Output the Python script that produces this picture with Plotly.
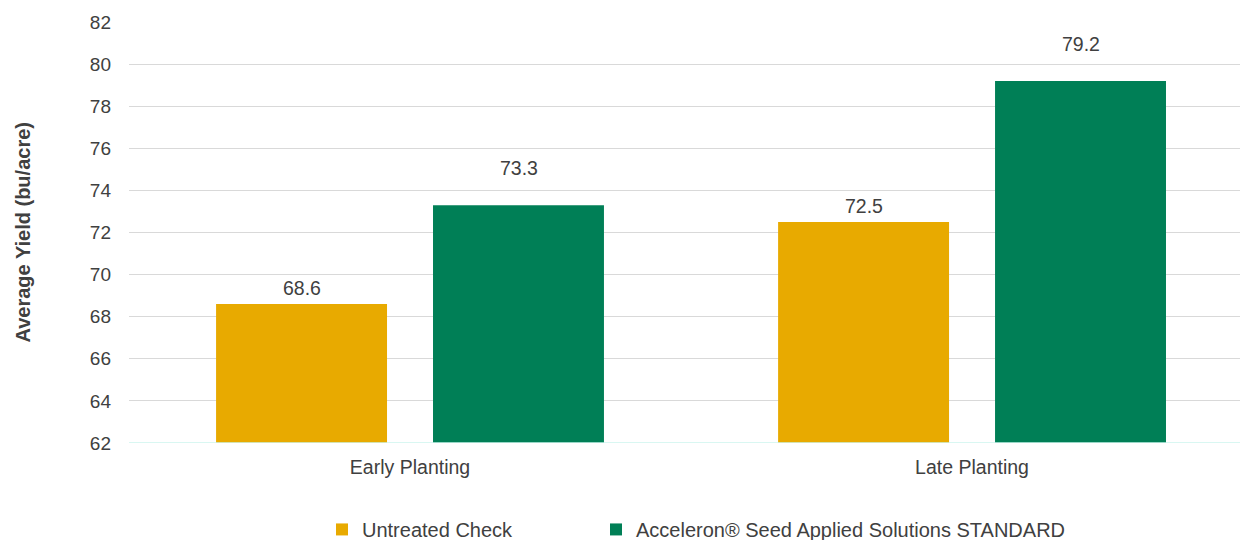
import plotly.graph_objects as go

categories = ["Early Planting", "Late Planting"]
series_names = ["Untreated Check", "Acceleron® Seed Applied Solutions STANDARD"]
untreated = [68.6, 72.5]
acceleron = [73.3, 79.2]
y_ticks = [62, 64, 66, 68, 70, 72, 74, 76, 78, 80, 82]

colors = ["#E8AA00", "#007F56"]
label_shift = [3, 24]
legend_ids = ["legend", "legend2"]
FONT = "Liberation Sans, Arial, Helvetica"
TXT = "#404040"

# page body adds an 8px offset; figure sized so the plot lands where the reference has it
L, T, W, H = 121, 14, 1240, 532
PW = W - L

fig = go.Figure()
for name, vals, col, lg in zip(series_names, [untreated, acceleron], colors, legend_ids):
    fig.add_trace(go.Bar(x=categories, y=vals, name=name, legend=lg,
                         marker=dict(color=col, line=dict(width=0))))

# data labels
for i, (vals, shift) in enumerate(zip([untreated, acceleron], label_shift)):
    for j, v in enumerate(vals):
        fig.add_annotation(x=categories[j], y=v, text=f"{v:.1f}", showarrow=False,
                           xref="x", yref="y", yanchor="bottom", yshift=shift,
                           xshift=(-1 if i == 0 else 1) * 108.5,
                           font=dict(size=19.5, color=TXT, family=FONT))

fig.add_annotation(text="<b>Average Yield (bu/acre)</b>", textangle=-90, showarrow=False,
                   xref="paper", yref="paper", x=(14 - L) / PW, y=0.5,
                   xanchor="center", yanchor="middle",
                   font=dict(size=20, color=TXT, family=FONT))

fig.update_layout(
    width=W, height=H,
    margin=dict(l=L, r=0, t=T, b=97, autoexpand=False),
    plot_bgcolor="white", paper_bgcolor="white",
    barmode="group", bargap=0.228, bargroupgap=0.212,
    font=dict(family=FONT, size=19, color=TXT),
    xaxis=dict(range=[-0.5, 1.491], showgrid=False, showline=False, ticks="",
               automargin=False, ticklabelstandoff=10,
               tickfont=dict(size=19.5, color=TXT)),
    yaxis=dict(range=[62, 82], tickvals=y_ticks, showgrid=True, gridcolor="#D9D9D9", gridwidth=1,
               zeroline=False, showline=False, ticks="", automargin=False,
               ticklabelstandoff=17,
               tickfont=dict(size=19, color=TXT)),
    legend=dict(orientation="h", x=(314 - L) / PW, xanchor="left", y=-0.159, yanchor="top",
                font=dict(size=20, color=TXT), bgcolor="rgba(0,0,0,0)"),
    legend2=dict(orientation="h", x=(588 - L) / PW, xanchor="left", y=-0.159, yanchor="top",
                 font=dict(size=20, color=TXT), bgcolor="rgba(0,0,0,0)"),
    showlegend=True,
)
fig.add_shape(type="line", xref="paper", yref="y", x0=0, x1=1, y0=62, y1=62,
              line=dict(color="#CCF5EE", width=1.5), layer="above")

fig.write_html("out.html")
